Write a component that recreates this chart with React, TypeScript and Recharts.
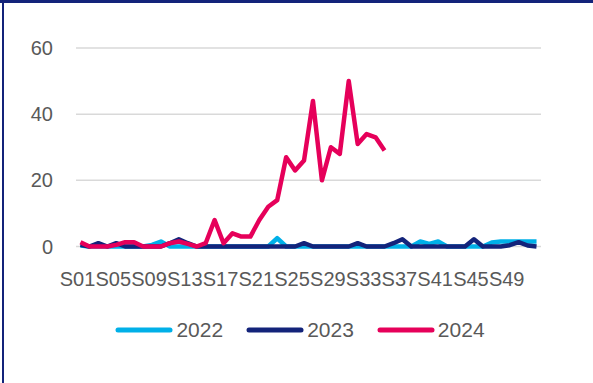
import React from 'react';
import { LineChart, Line, XAxis, YAxis, CartesianGrid, Legend } from 'recharts';

const weeks = [
  'S01', 'S02', 'S03', 'S04', 'S05', 'S06', 'S07', 'S08', 'S09', 'S10', 'S11', 'S12', 'S13',
  'S14', 'S15', 'S16', 'S17', 'S18', 'S19', 'S20', 'S21', 'S22', 'S23', 'S24', 'S25', 'S26',
  'S27', 'S28', 'S29', 'S30', 'S31', 'S32', 'S33', 'S34', 'S35', 'S36', 'S37', 'S38', 'S39',
  'S40', 'S41', 'S42', 'S43', 'S44', 'S45', 'S46', 'S47', 'S48', 'S49', 'S50', 'S51', 'S52',
];

const y2022 = [
  0.3, 0, 0, 0, 0, 0, 0, 0, 0.5, 1.5, 0, 0, 0,
  0, 0, 0, 0, 0, 0, 0, 0, 0, 2.5, 0, 0, 0,
  0, 0, 0, 0, 0, 0, 0, 0, 0, 0, 0, 0, 1.5,
  0.8, 1.5, 0, 0, 0, 0, 0, 1.2, 1.5, 1.5, 1.5, 1.5, 1.5,
];

const y2023 = [
  0.5, 0, 1, 0, 1, 0, 0, 0, 0, 0, 1, 2.2, 1,
  0, 0, 0, 0, 0, 0, 0, 0, 0, 0, 0, 0, 1,
  0, 0, 0, 0, 0, 1, 0, 0, 0, 1, 2.2, 0, 0,
  0, 0, 0, 0, 0, 2.2, 0, 0, 0, 0.4, 1.3, 0.3, 0,
];

const y2024 = [
  1.3, 0, 0, 0, 0.5, 1.3, 1.3, 0, 0, 0, 1, 1.5, 0.8,
  0, 1, 8, 1, 4, 3, 3, 8, 12, 14, 27, 23, 26,
  44, 20, 30, 28, 50, 31, 34, 33, 29,
];

const yTicks = [0, 20, 40, 60];

const series = [
  { key: 'a2022', name: '2022', color: '#00B0E8' },
  { key: 'a2023', name: '2023', color: '#13237A' },
  { key: 'a2024', name: '2024', color: '#E6005A' },
];

const data = weeks.map((w, i) => ({
  week: w,
  a2022: y2022[i],
  a2023: y2023[i],
  a2024: i < y2024.length ? y2024[i] : null,
}));

const FONT = '"Liberation Sans", Arial, sans-serif';

const LegendContent = () => (
  <div style={{ display: 'flex', justifyContent: 'center', alignItems: 'center', fontFamily: FONT }}>
    {series.map((s) => (
      <div key={s.key} style={{ display: 'flex', alignItems: 'center', margin: '0 11.5px' }}>
        <svg width={58} height={8} style={{ marginRight: 3 }}>
          <line x1={3} y1={4} x2={55} y2={4} stroke={s.color} strokeWidth={5} strokeLinecap="round" />
        </svg>
        <span style={{ fontSize: 21, color: '#595959', lineHeight: '24px' }}>{s.name}</span>
      </div>
    ))}
  </div>
);

export default function App() {
  return (
    <div style={{ position: 'absolute', left: 0, top: 0, width: 593, height: 383, background: '#fff', overflow: 'hidden' }}>
      <LineChart
        width={593}
        height={383}
        data={data}
        margin={{ top: 48, right: 52, bottom: 106.5, left: 0 }}
      >
        <CartesianGrid vertical={false} stroke="#D9D9D9" strokeWidth={1.5} />
        <XAxis
          dataKey="week"
          interval={3}
          tickLine={false}
          axisLine={false}
          tickSize={0}
          tickMargin={25}
          height={30}
          padding={{ left: 4.47, right: 4.47 }}
          tick={{ fill: '#595959', fontSize: 20, fontFamily: FONT, dx: -3 }}
        />
        <YAxis
          domain={[0, 60]}
          ticks={yTicks}
          width={76}
          tickLine={false}
          axisLine={false}
          tickSize={0}
          tickMargin={23}
          tick={{ fill: '#595959', fontSize: 20, fontFamily: FONT }}
        />
        <Legend
          layout="horizontal"
          verticalAlign="middle"
          align="center"
          wrapperStyle={{ top: 318, left: 0, width: 600 }}
          content={<LegendContent />}
        />
        {series.map((s) => (
          <Line
            key={s.key}
            type="linear"
            dataKey={s.key}
            name={s.name}
            stroke={s.color}
            strokeWidth={4.5}
            strokeLinejoin="round"
            dot={false}
            activeDot={false}
            connectNulls={false}
            isAnimationActive={false}
          />
        ))}
      </LineChart>
      <div style={{ position: 'absolute', left: 0, top: 0, width: 593, height: 3, background: '#13237A' }} />
      <div style={{ position: 'absolute', left: 2, top: 0, width: 2, height: 383, background: '#13237A' }} />
    </div>
  );
}
